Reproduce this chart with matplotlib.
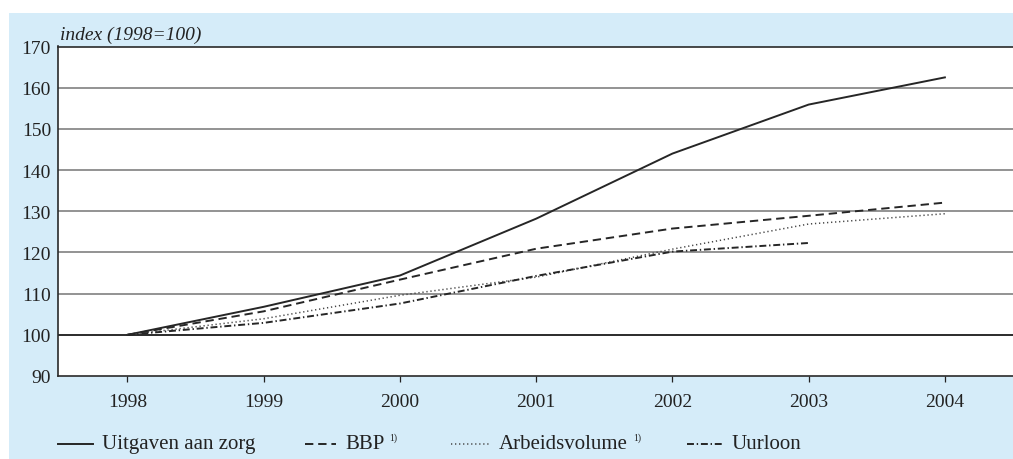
import matplotlib
matplotlib.use("Agg")
import matplotlib.pyplot as plt
from matplotlib.lines import Line2D
from matplotlib.patches import Rectangle

plt.rcParams['font.family'] = ['Liberation Serif', 'DejaVu Serif']
plt.rcParams['lines.scale_dashes'] = False

jaren = [1998, 1999, 2000, 2001, 2002, 2003, 2004]
uitgaven_zorg = [100, 106.8, 114.4, 128.2, 144.0, 155.9, 162.5]
bbp = [100, 105.7, 113.4, 120.9, 125.8, 128.9, 132.1]
arbeidsvolume = [100, 103.9, 109.6, 114.0, 120.8, 126.9, 129.4]
uurloon_jaren = [1998, 1999, 2000, 2001, 2002, 2003]
uurloon = [100, 102.9, 107.6, 114.3, 120.2, 122.3]

y_ticks = [90, 100, 110, 120, 130, 140, 150, 160, 170]

W, H = 1013, 460
fig = plt.figure(figsize=(W / 100, H / 100), dpi=100)

def fx(px):
    return px / W

def fy(py):
    return 1 - py / H

# lichtblauwe achtergrond van het kader
fig.patches.append(Rectangle((fx(9), 0), 1 - fx(9), fy(14), transform=fig.transFigure,
                             facecolor='#d5ecf9', edgecolor='none', zorder=-5))

ax = fig.add_axes([fx(58), fy(377), 1 - fx(58), fy(47.5) - fy(377)])
ax.set_facecolor('white')

ink = '#262626'
ax.plot(jaren, uitgaven_zorg, color=ink, lw=1.4, solid_joinstyle='round', zorder=5)
ax.plot(jaren, bbp, color=ink, lw=1.4, dashes=(6, 3.5), zorder=5)
ax.plot(jaren, arbeidsvolume, color='#444444', lw=1.1, dashes=(0.9, 2.0), zorder=5)
ax.plot(uurloon_jaren, uurloon, color=ink, lw=1.4, dashes=(5, 2, 1, 2), zorder=5)

ax.set_xlim(1997.49, 2004.5)
ax.set_ylim(90, 170)
ax.set_yticks(y_ticks)
ax.set_xticks(jaren)

# horizontale rasterlijnen
for v in y_ticks[1:-1]:
    kleur = '#1a1a1a' if v == 100 else '#8a8a8a'
    ax.axhline(v, color=kleur, lw=1.3, zorder=1)

ax.spines['right'].set_visible(False)
for side in ['left', 'bottom', 'top']:
    ax.spines[side].set_color('#2a2a2a')
    ax.spines[side].set_linewidth(1.2)

ax.tick_params(axis='y', length=0, pad=5, labelsize=14, colors='#222222')
ax.tick_params(axis='x', length=4, width=0.9, direction='out', pad=8,
               labelsize=14, colors='#222222')

ax.text(0.002, 1.01, 'index (1998=100)', transform=ax.transAxes, style='italic',
        fontsize=14, color='#222222', va='bottom', ha='left')

# legenda onder de grafiek
legenda = [
    (58, 93, dict(lw=1.4), 'Uitgaven aan zorg', False),
    (305, 336, dict(lw=1.4, dashes=(6, 3.5)), 'BBP', True),
    (451, 490, dict(lw=1.1, dashes=(0.9, 2.0), color='#444444'), 'Arbeidsvolume', True),
    (687, 722, dict(lw=1.4, dashes=(5, 2, 1, 2)), 'Uurloon', False),
]
ly = 445
renderer = fig.canvas.get_renderer()
for x0, x1, stijl, label, voetnoot in legenda:
    kw = dict(color=ink)
    kw.update(stijl)
    fig.add_artist(Line2D([fx(x0), fx(x1)], [fy(ly), fy(ly)], transform=fig.transFigure, **kw))
    t = fig.text(fx(x1 + 9), fy(ly), label, fontsize=15, color='#222222',
                 va='center', ha='left')
    if voetnoot:
        rechts = t.get_window_extent(renderer).x1
        fig.text(fx(rechts + 5), fy(ly - 7), '1)', fontsize=7, color='#222222',
                 va='center', ha='left')

fig.savefig('out.png', dpi=100)
